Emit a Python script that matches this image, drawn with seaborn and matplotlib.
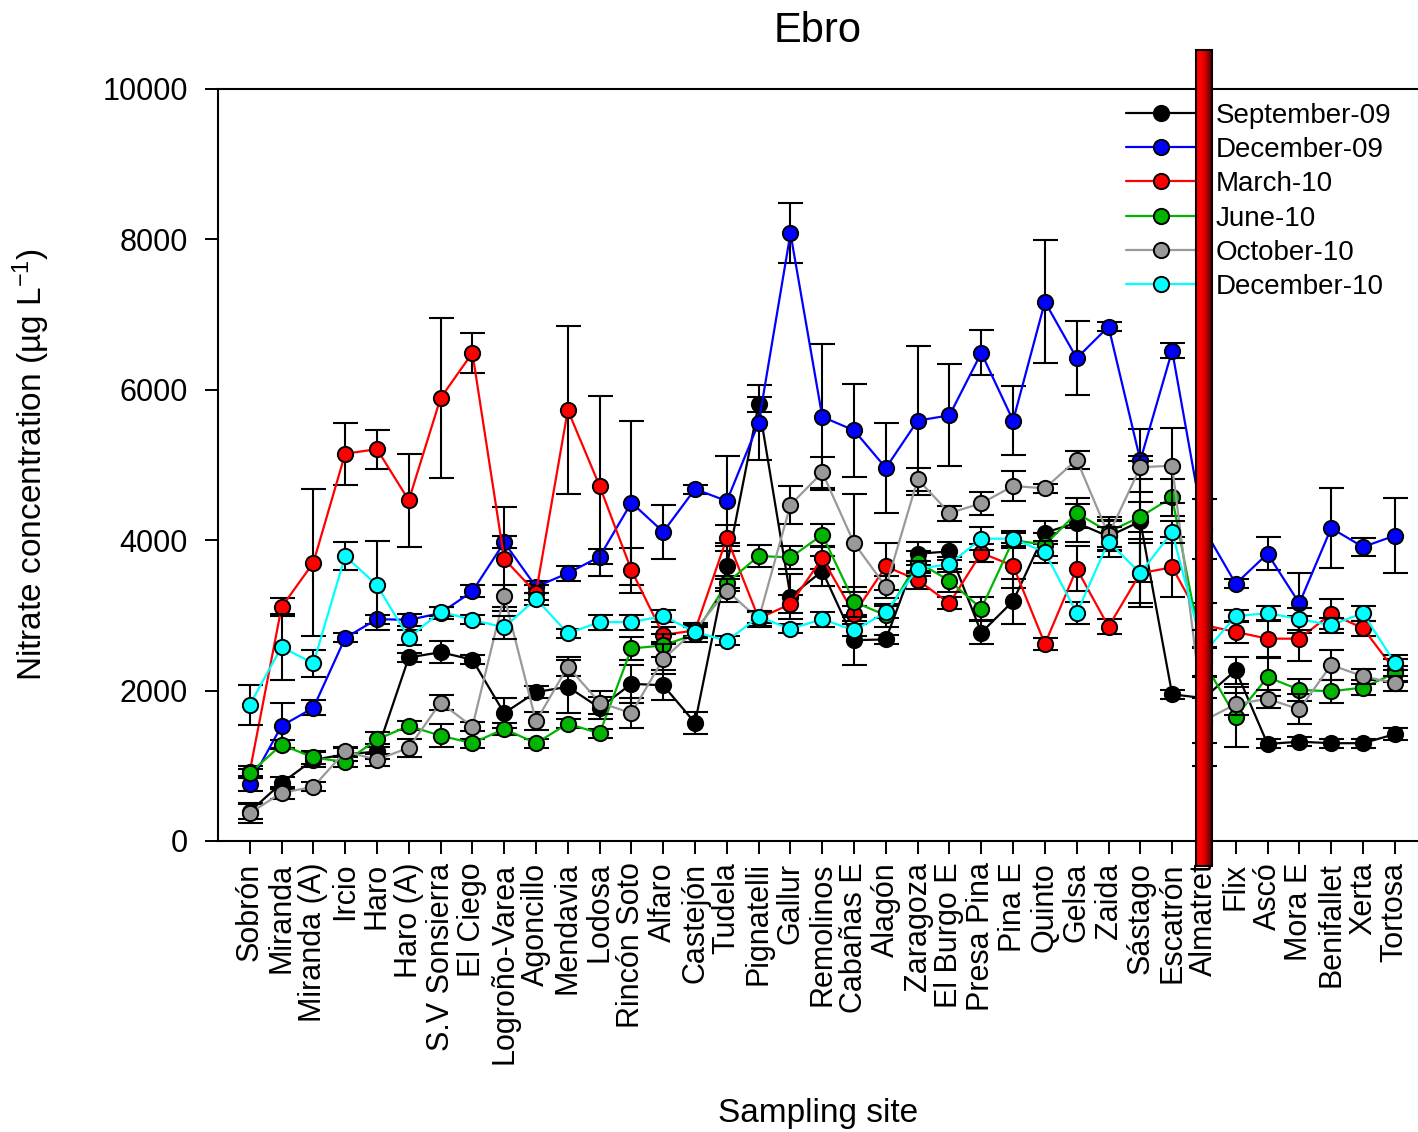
"""
Ebro nitrate concentrations per sampling site, six campaigns, with SD bars.
"""
import numpy as np
import matplotlib
matplotlib.use("Agg")
import matplotlib.pyplot as plt
from matplotlib.patches import Rectangle
from matplotlib.colors import LinearSegmentedColormap
import seaborn as sns

sites = ["Sobrón", "Miranda", "Miranda (A)", "Ircio", "Haro", "Haro (A)",
         "S.V Sonsierra", "El Ciego", "Logroño-Varea", "Agoncillo", "Mendavia",
         "Lodosa", "Rincón Soto", "Alfaro", "Castejón", "Tudela", "Pignatelli",
         "Gallur", "Remolinos", "Cabañas E", "Alagón", "Zaragoza", "El Burgo E",
         "Presa Pina", "Pina E", "Quinto", "Gelsa", "Zaida", "Sástago",
         "Escatrón", "Almatret", "Flix", "Ascó", "Mora E", "Benifallet",
         "Xerta", "Tortosa"]

sep09 = [390, 770, 1080, 1150, 1190, 2440, 2510, 2410, 1700, 1980, 2050, 1770,
         2090, 2070, 1570, 3660, 5810, 3250, 3590, 2670, 2680, 3820, 3850, 2770,
         3190, 4100, 4230, 4050, 4250, 1950, 1900, 2270, 1290, 1320, 1300, 1300, 1420]
dec09 = [760, 1530, 1770, 2700, 2950, 2940, 3030, 3320, 3970, 3380, 3560, 3780,
         4500, 4110, 4680, 4520, 5560, 8080, 5640, 5460, 4960, 5590, 5660, 6490,
         5590, 7170, 6420, 6840, 5060, 6520, 4150, 3420, 3820, 3160, 4160, 3910, 4060]
mar10 = [920, 3110, 3700, 5150, 5210, 4530, 5890, 6490, 3750, 3300, 5730, 4720,
         3600, 2740, 2800, 4030, 2960, 3150, 3760, 3020, 3650, 3470, 3160, 3830,
         3660, 2620, 3620, 2850, 3560, 3640, 2870, 2780, 2690, 2690, 3020, 2830, 2270]
jun10 = [900, 1280, 1110, 1050, 1350, 1530, 1400, 1300, 1490, 1300, 1560, 1430,
         2560, 2600, 2750, 3430, 3790, 3770, 4070, 3180, 3000, 3710, 3460, 3090,
         4000, 3940, 4360, 4110, 4310, 4570, 2380, 1650, 2180, 2010, 1990, 2040, 2230]
oct10 = [370, 640, 720, 1190, 1080, 1240, 1840, 1520, 3260, 1590, 2320, 1840,
         1700, 2420, 2800, 3330, 2950, 4470, 4900, 3960, 3380, 4810, 4360, 4490,
         4720, 4690, 5070, 4070, 4970, 4990, 1600, 1820, 1890, 1750, 2340, 2190, 2100]
dec10 = [1810, 2580, 2360, 3790, 3400, 2700, 3050, 2940, 2840, 3220, 2760, 2910,
         2910, 2990, 2780, 2660, 2980, 2820, 2950, 2800, 3040, 3620, 3680, 4020,
         4020, 3840, 3030, 3980, 3560, 4110, 2500, 2990, 3030, 2950, 2870, 3030, 2370]

sep09_err = [100, 80, 100, 80, 100, 60, 150, 60, 200, 80, 350, 150, 250, 200, 150,
             300, 100, 300, 200, 330, 60, 150, 120, 150, 300, 150, 250, 200, 800,
             60, 900, 180, 60, 60, 60, 60, 80]
dec09_err = [100, 300, 100, 60, 60, 80, 80, 80, 80, 80, 100, 100, 1090, 360, 60,
             600, 500, 400, 970, 620, 600, 990, 680, 300, 460, 820, 490, 60, 420,
             100, 400, 60, 220, 400, 530, 120, 500]
mar10_err = [80, 120, 980, 410, 260, 620, 1060, 270, 690, 100, 1120, 1200, 300,
             100, 80, 170, 100, 120, 150, 100, 310, 120, 80, 120, 300, 80, 300, 100,
             400, 400, 300, 150, 250, 300, 200, 100, 150]
jun10_err = [60, 60, 80, 60, 100, 60, 150, 60, 80, 60, 60, 60, 150, 150, 100, 100,
             150, 150, 150, 200, 150, 150, 150, 150, 100, 150, 200, 200, 200, 250,
             200, 400, 250, 150, 150, 100, 100]
oct10_err = [130, 80, 60, 60, 80, 120, 100, 60, 150, 120, 120, 150, 200, 200, 100,
             150, 100, 250, 200, 650, 150, 150, 100, 150, 200, 60, 120, 200, 150,
             500, 300, 150, 120, 200, 200, 100, 100]
dec10_err = [270, 440, 180, 190, 590, 100, 60, 60, 150, 80, 60, 100, 100, 80, 80,
             60, 80, 60, 100, 80, 80, 100, 100, 150, 100, 150, 150, 200, 450, 150,
             300, 80, 100, 150, 100, 100, 100]

campaigns = ["September-09", "December-09", "March-10", "June-10",
             "October-10", "December-10"]
colors = ["#000000", "#0000ff", "#ff0000", "#00b400", "#999999", "#00ffff"]
series = [sep09, dec09, mar10, jun10, oct10, dec10]
errors = [sep09_err, dec09_err, mar10_err, jun10_err, oct10_err, dec10_err]

sns.set_theme(style="ticks")
plt.rcParams["font.family"] = ["Liberation Sans", "DejaVu Sans"]
plt.rcParams["mathtext.default"] = "regular"
for key in ["text.color", "axes.labelcolor", "xtick.color", "ytick.color",
            "axes.edgecolor"]:
    plt.rcParams[key] = "black"

fig, ax = plt.subplots(figsize=(14.18, 11.32), dpi=100)
fig.subplots_adjust(left=0.1537, right=1.0, top=0.9214, bottom=0.2571)

x = np.arange(len(sites))
for k, (name, c, vals, err) in enumerate(zip(campaigns, colors, series, errors)):
    ax.errorbar(x, vals, yerr=err, fmt="none", ecolor="black", elinewidth=1.5,
                capsize=9, capthick=1.5, zorder=3 + 2 * k)
    sns.lineplot(x=x, y=vals, ax=ax, color=c, linewidth=1.6, marker="o",
                 markersize=11, markeredgecolor="black", markeredgewidth=1.4,
                 label=name, errorbar=None, zorder=4 + 2 * k)

# red marker bar at Almatret
xa = sites.index("Almatret")
half = 0.26
grad = np.linspace(0, 1, 50).reshape(1, -1)
cmap = LinearSegmentedColormap.from_list(
    "bar", ["#ff0000", "#ff0000", "#e00000", "#900000", "#400000"])
ax.imshow(grad, extent=[xa - half, xa + half, -330, 10520], aspect="auto",
          cmap=cmap, zorder=30, clip_on=False, interpolation="bilinear")
ax.add_patch(Rectangle((xa - half, -330), 2 * half, 10850, fill=False,
                       edgecolor="black", linewidth=1.5, clip_on=False, zorder=31))

ax.set_xlim(-1.0, 36.73)
ax.set_ylim(0, 10000)
ax.set_yticks(range(0, 10001, 2000))
ax.set_xticks(x)
ax.set_xticklabels(sites, rotation=90, fontsize=22)
ax.tick_params(axis="y", labelsize=22, direction="out", length=9.5, width=1.4, pad=12)
ax.tick_params(axis="x", direction="out", length=9.5, width=1.4, pad=6)
for s in ["left", "top", "bottom"]:
    ax.spines[s].set_linewidth(1.5)
ax.spines["right"].set_visible(False)

ax.set_title("Ebro", fontsize=30, pad=34)
ax.set_xlabel("Sampling site", fontsize=24)
ax.xaxis.set_label_coords(0.5, -0.342)
ax.set_ylabel("Nitrate concentration (µg L$^{-1}$)", fontsize=24)
ax.yaxis.set_label_coords(-0.138, 0.5)

ax.legend(loc="upper left", bbox_to_anchor=(0.757, 0.982), frameon=False,
          fontsize=20, handlelength=2.5, handletextpad=0.7, labelspacing=0.3,
          borderpad=0, borderaxespad=0)

plt.savefig("out.png", dpi=100)
plt.close()
